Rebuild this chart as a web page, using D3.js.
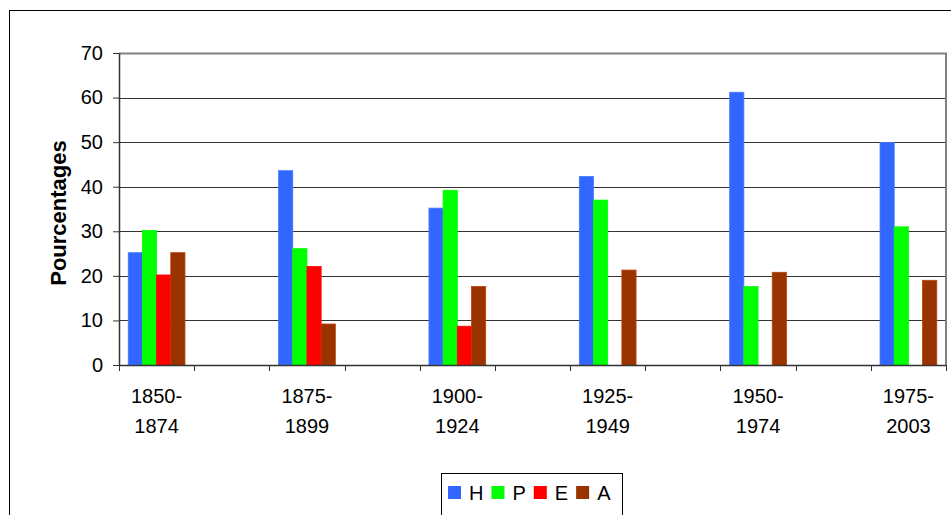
<!DOCTYPE html>
<html>
<head>
<meta charset="utf-8">
<script src="https://cdn.jsdelivr.net/npm/d3@7"></script>
<style>
  html, body { margin: 0; padding: 0; background: #fff; }
  svg { display: block; font-family: "Liberation Sans", Arial, sans-serif; }
</style>
</head>
<body>
<svg id="chart" width="951" height="515"></svg>
<script>
// ---- data ----
const categories = ["1850-1874", "1875-1899", "1900-1924", "1925-1949", "1950-1974", "1975-2003"];
const seriesNames = ["H", "P", "E", "A"];
const seriesH = [25.2, 43.6, 35.2, 42.3, 61.2, 49.9];
const seriesP = [30.2, 26.1, 39.2, 37.0, 17.6, 31.0];
const seriesE = [20.2, 22.1, 8.7, 0, 0, 0];
const seriesA = [25.2, 9.2, 17.6, 21.3, 20.8, 19.0];
const yTicks = [0, 10, 20, 30, 40, 50, 60, 70];
const yTitle = "Pourcentages";
const colors = ["#3366FF", "#00FF00", "#FF0000", "#993300"];

const seriesValues = [seriesH, seriesP, seriesE, seriesA];

// ---- layout ----
const svg = d3.select("#chart");
const plot = { left: 119, right: 946, top: 53, bottom: 365 };

// outer chart frame
svg.append("rect")
  .attr("x", 9.5).attr("y", 10.5)
  .attr("width", 1000).attr("height", 1000)
  .attr("fill", "#fff").attr("stroke", "#000").attr("stroke-width", 1);

// 11 slots: real categories at even slots, blank slots in between
const slots = d3.range(categories.length * 2 - 1);
const x = d3.scaleBand().domain(slots).range([plot.left, plot.right]).padding(0);
const xs = d3.scaleBand().domain(seriesNames).range([0, x.bandwidth()])
  .paddingInner(0).paddingOuter(0.65);
const y = d3.scaleLinear().domain([0, 70]).range([plot.bottom, plot.top]);

// gridlines
svg.append("g").selectAll("line")
  .data(yTicks.filter(d => d > 0 && d < 70))
  .join("line")
  .attr("x1", plot.left).attr("x2", plot.right)
  .attr("y1", d => Math.round(y(d)) + 0.5).attr("y2", d => Math.round(y(d)) + 0.5)
  .attr("stroke", "#333").attr("stroke-width", 1);

// plot area border (top & right)
svg.append("path")
  .attr("d", `M${plot.left},${plot.top + 0.5}H${plot.right}V${plot.bottom}`)
  .attr("fill", "none").attr("stroke", "#808080").attr("stroke-width", 2);

// bars
const groups = svg.append("g").selectAll("g")
  .data(categories.map((c, i) => ({ c, i })))
  .join("g")
  .attr("transform", d => `translate(${x(d.i * 2)},0)`);

groups.selectAll("rect")
  .data(d => seriesNames.map((s, k) => ({ s, k, v: seriesValues[k][d.i] })).filter(e => e.v > 0))
  .join("rect")
  .attr("x", e => xs(e.s))
  .attr("width", xs.bandwidth())
  .attr("y", e => y(e.v))
  .attr("height", e => y(0) - y(e.v))
  .attr("fill", e => colors[e.k])
  .attr("stroke", e => d3.color(colors[e.k]).brighter(0.6))
  .attr("stroke-width", 0.8);

// y axis
const yAxis = svg.append("g")
  .attr("transform", `translate(${plot.left},0)`)
  .call(d3.axisLeft(y).tickValues(yTicks).tickSize(6).tickPadding(10).tickSizeOuter(0));
yAxis.select(".domain").attr("stroke", "#333").attr("stroke-width", 1.5);
yAxis.selectAll(".tick line").attr("stroke", "#333");
yAxis.selectAll(".tick text")
  .attr("font-size", 20).attr("font-family", "Liberation Sans, Arial, sans-serif").attr("fill", "#000");

// x axis line
svg.append("line")
  .attr("x1", plot.left).attr("x2", plot.right)
  .attr("y1", plot.bottom + 0.5).attr("y2", plot.bottom + 0.5)
  .attr("stroke", "#333").attr("stroke-width", 1.5);

// x tick marks at slot boundaries
const boundaries = slots.map(s => x(s)).concat([plot.right]);
svg.append("g").selectAll("line")
  .data(boundaries)
  .join("line")
  .attr("x1", d => Math.round(d) + 0.5).attr("x2", d => Math.round(d) + 0.5)
  .attr("y1", plot.bottom).attr("y2", plot.bottom + 6)
  .attr("stroke", "#333").attr("stroke-width", 1);

// x labels (two lines)
const xl = svg.append("g").selectAll("text")
  .data(categories.map((c, i) => ({ c, i })))
  .join("text")
  .attr("text-anchor", "middle")
  .attr("font-size", 20)
  .attr("fill", "#000");
xl.append("tspan")
  .attr("x", d => x(d.i * 2) + x.bandwidth() / 2)
  .attr("y", 403)
  .text(d => d.c.split("-")[0] + "-");
xl.append("tspan")
  .attr("x", d => x(d.i * 2) + x.bandwidth() / 2)
  .attr("y", 433)
  .text(d => d.c.split("-")[1]);

// y title
svg.append("text")
  .attr("transform", `translate(66,${(plot.top + plot.bottom) / 2 + 4}) rotate(-90)`)
  .attr("text-anchor", "middle")
  .attr("font-size", 22)
  .attr("font-weight", "bold")
  .attr("fill", "#000")
  .text(yTitle);

// legend
const legend = svg.append("g");
legend.append("rect")
  .attr("x", 441.5).attr("y", 473.5)
  .attr("width", 181).attr("height", 80)
  .attr("fill", "#fff").attr("stroke", "#000").attr("stroke-width", 1);
let lx = 448;
seriesNames.forEach((s, k) => {
  legend.append("rect")
    .attr("x", lx).attr("y", 486).attr("width", 13).attr("height", 13)
    .attr("fill", colors[k]);
  const t = legend.append("text")
    .attr("x", lx + 21).attr("y", 499.5)
    .attr("font-size", 20).attr("fill", "#000")
    .text(s);
  const w = t.node().getComputedTextLength();
  lx += 29 + w;
});
</script>
</body>
</html>
